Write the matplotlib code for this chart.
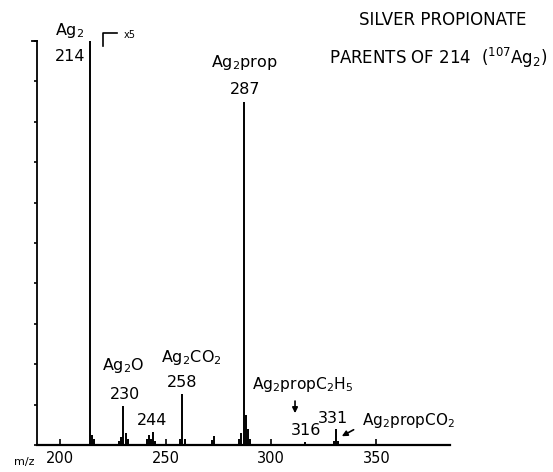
import numpy as np
import matplotlib
matplotlib.use("Agg")
import matplotlib.pyplot as plt

# m/z positions and relative intensities (parents of 214, x5 scale)
mz = [214, 215, 216, 228, 229, 230, 231, 232, 241, 242, 243, 244, 245,
      257, 258, 259, 272, 273, 285, 286, 287, 288, 289, 290, 316, 330, 331, 332]
intensity = [100, 2.5, 1.5, 1.0, 2.0, 9.7, 3.0, 1.5, 1.5, 2.5, 1.5, 3.2, 1.0,
             1.5, 12.6, 1.5, 1.2, 2.2, 1.5, 3.0, 85, 7.4, 4.0, 1.5, 0.8, 1.0, 4.0, 1.0]

x_ticks = [200, 250, 300, 350]
y_ticks = list(range(0, 101, 10))

fig = plt.figure(figsize=(5.53, 4.72), dpi=100)
ax = fig.add_axes([0.067, 0.057, 0.747, 0.856])

ax.vlines(mz, 0, intensity, colors="black", linewidth=1.4)

ax.set_xlim(189, 385)
ax.set_ylim(0, 100)
ax.spines["top"].set_visible(False)
ax.spines["right"].set_visible(False)
ax.spines["left"].set_linewidth(1.3)
ax.spines["bottom"].set_linewidth(1.6)
ax.set_xticks(x_ticks)
ax.set_yticks(y_ticks)
ax.set_yticklabels([])
ax.tick_params(axis="y", direction="out", length=2, width=1.2)
ax.tick_params(axis="x", direction="in", length=4, width=1.2, labelsize=10.5, pad=4)

# small bracket at top of left axis
ax.plot([189, 186.5], [100, 100], color="black", lw=1.3, clip_on=False)

fs = 11.5
txt = dict(ha="center", va="center", fontsize=fs, color="black")
ax.text(182.9, -4.2, "m/z", fontsize=8, ha="center", va="center")

ax.text(204.3, 102.5, "Ag$_2$", **txt)
ax.text(204.5, 96.3, "214", **txt)
ax.text(287.2, 94.8, "Ag$_2$prop", **txt)
ax.text(287.7, 87.9, "287", **txt)
ax.text(229.9, 19.6, "Ag$_2$O", **txt)
ax.text(230.8, 12.6, "230", **txt)
ax.text(243.8, 6.2, "244", **txt)
ax.text(262.3, 21.8, "Ag$_2$CO$_2$", **txt)
ax.text(257.7, 15.6, "258", **txt)
ax.text(291, 14.9, "Ag$_2$propC$_2$H$_5$", ha="left", va="center", fontsize=11.2)
ax.text(316.6, 3.7, "316", **txt)
ax.text(329.4, 6.7, "331", **txt)
ax.text(343.1, 6.2, "Ag$_2$propCO$_2$", ha="left", va="center", fontsize=11)

ax.text(381.5, 105.2, "SILVER PROPIONATE", ha="center", va="center", fontsize=12)
ax.text(327.5, 95.8, "PARENTS OF 214  ($^{107}$Ag$_2$)", ha="left", va="center", fontsize=12)

# x5 marker
ax.plot([220.4, 220.4, 227], [98.8, 102, 102], color="black", lw=1.2, clip_on=False)
ax.text(229.9, 101.6, "x5", fontsize=7, ha="left", va="center")

# arrows
arrow = dict(arrowstyle="-|>", color="black", lw=1.2, mutation_scale=8, shrinkA=0, shrinkB=0)
ax.annotate("", xy=(311.4, 7.9), xytext=(311.4, 10.9), arrowprops=arrow)
ax.annotate("", xy=(333.6, 2.2), xytext=(339.2, 3.8), arrowprops=arrow)

fig.savefig("out.png", dpi=100)
